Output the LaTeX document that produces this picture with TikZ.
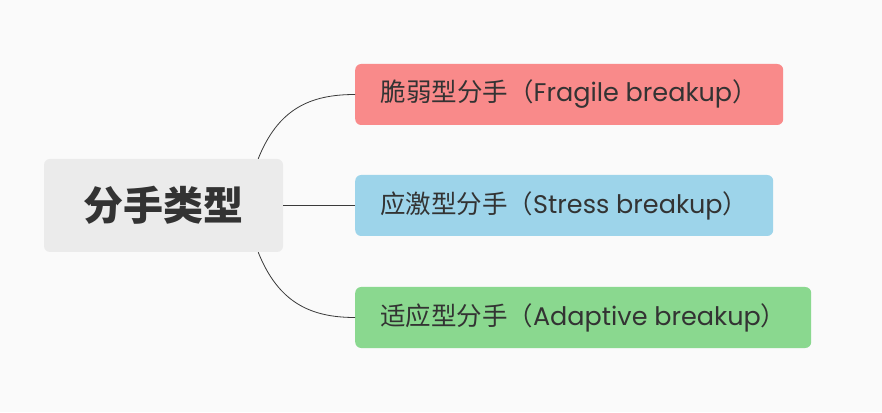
\documentclass[tikz,border=0pt]{standalone}
\usepackage{fontspec}
\setmainfont{Poppins}
\newfontfamily\cjk{Noto Sans CJK SC}
\usepackage{xcolor}
\usetikzlibrary{calc}
\definecolor{rootgray}{HTML}{EBEBEB}
\definecolor{fragred}{HTML}{F98A8A}
\definecolor{stressblue}{HTML}{9DD4EA}
\definecolor{adaptgreen}{HTML}{8AD88F}
\definecolor{inkgray}{HTML}{333333}
\definecolor{linegray}{HTML}{3A3A3A}

\begin{document}
\begin{tikzpicture}[x=1pt,y=1pt]
    % Styles for boxes and lines
    \tikzset{
      rootbox/.style={rectangle, rounded corners=6pt, fill=rootgray, align=center, minimum width=239pt, minimum height=93pt, text=inkgray, font=\cjk\bfseries\fontsize{40}{42}\selectfont},
      leafbox/.style={rectangle, rounded corners=6pt, anchor=west, align=center, minimum height=61pt, text=inkgray, font=\fontsize{25.5}{28}\selectfont},
      branch/.style={draw=linegray, line width=0.8pt}
    }

    % Canvas
    \fill[white!98!black] (0,0) rectangle (882,412);
    \useasboundingbox (0,0) rectangle (882,412);

    % Nodes with explicit coordinates
    \node[rootbox] (types) at (163.5,206.5) {分手类型};
    \node[leafbox, fill=fragred, minimum width=428pt] (fragile) at (355,317.5) {{\cjk 脆弱型分手（}Fragile breakup{\cjk ）}};
    \node[leafbox, fill=stressblue, minimum width=418pt] (stress) at (355,206.5) {{\cjk 应激型分手（}Stress breakup{\cjk ）}};
    \node[leafbox, fill=adaptgreen, minimum width=456pt] (adaptive) at (355,94.5) {{\cjk 适应型分手（}Adaptive breakup{\cjk ）}};

    % Branches
    \draw[branch] ($(types.north east)+(-25,0)$) .. controls ($(types.north east)+(-5,50)$) and ($(fragile.west)+(-45,0)$) .. (fragile.west);
    \draw[branch] (types.east) -- (stress.west);
    \draw[branch] ($(types.south east)+(-25,0)$) .. controls ($(types.south east)+(-5,-50)$) and ($(adaptive.west)+(-45,0)$) .. (adaptive.west);

\end{tikzpicture}
\end{document}
